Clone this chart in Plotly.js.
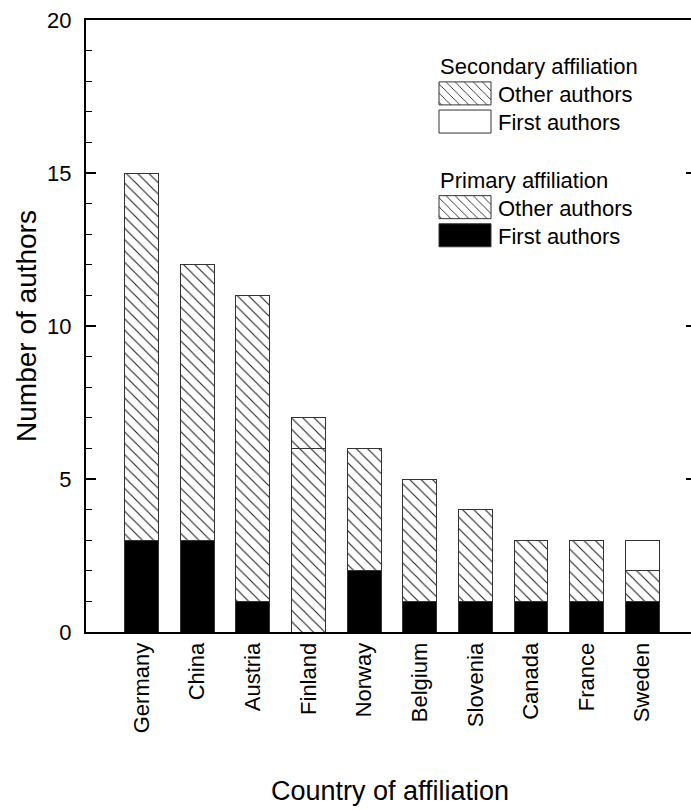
<!DOCTYPE html>
<html>
<head>
<meta charset="utf-8">
<script src="https://cdn.plot.ly/plotly-3.0.1.min.js"></script>
<style>
html,body{margin:0;padding:0;overflow:hidden;background:#fff;width:691px;height:810px;}
#chart{width:700px;height:810px;}
</style>
</head>
<body>
<div id="chart"></div>
<script>
var countries = ["Germany","China","Austria","Finland","Norway","Belgium","Slovenia","Canada","France","Sweden"];
var primaryFirst  = [3,3,1,0,2,1,1,1,1,1];
var primaryOther  = [12,9,10,6,4,4,3,2,2,1];
var secondaryOther= [0,0,0,1,0,0,0,0,0,0];
var secondaryFirst= [0,0,0,0,0,0,0,0,0,1];
var yTicks = [5,10,15];

var FONT = "Liberation Sans, Arial, sans-serif";
var hatch = {shape:"\\", size:8, solidity:0.14, fgcolor:"#222", bgcolor:"#fff", fillmode:"replace"};
var outline = {color:"#333", width:1};

function mk(name, vals, group, gtitle, rank, marker){
  return {type:"bar", x:countries, y:vals, name:name, legendgroup:group,
    legendgrouptitle:{text:gtitle, font:{family:FONT,size:22,color:"#000"}},
    legendrank:rank, width:0.61, marker:marker, hoverinfo:"skip"};
}
var traces = [
  mk("First authors", primaryFirst, "p", "Primary affiliation", 4, {color:"#000", line:outline}),
  mk("Other authors", primaryOther, "p", "Primary affiliation", 3, {color:"#fff", pattern:hatch, line:outline}),
  mk("Other authors", secondaryOther, "s", "Secondary affiliation", 1, {color:"#fff", pattern:hatch, line:outline}),
  mk("First authors", secondaryFirst, "s", "Secondary affiliation", 2, {color:"#fff", line:outline})
];

var layout = {
  width:700, height:810,
  margin:{l:86, r:6, t:20, b:178},
  paper_bgcolor:"#fff", plot_bgcolor:"#fff",
  barmode:"stack",
  font:{family:FONT, color:"#000"},
  showlegend:true,
  legend:{x:(435-86)/608, y:0.96, xanchor:"left", yanchor:"top", bgcolor:"rgba(0,0,0,0)",
    font:{family:FONT,size:22,color:"#000"}, traceorder:"grouped", tracegroupgap:33,
    itemwidth:53, itemclick:false},
  xaxis:{type:"category", range:[-1,9.93], showline:true, linecolor:"#000", linewidth:2,
    mirror:true, ticks:"", showgrid:false, zeroline:false, tickangle:-90,
    tickfont:{family:FONT,size:22,color:"#000"}, automargin:false,
    title:{text:"Country of affiliation", font:{family:FONT,size:27,color:"#000"}, standoff:49}},
  yaxis:{range:[0,20], dtick:5, tick0:0, showline:true, linecolor:"#000", linewidth:2,
    mirror:false, ticks:"inside", ticklen:10, tickwidth:1.5, tickcolor:"#000",
    minor:{dtick:1, ticks:"inside", ticklen:6, tickwidth:1, tickcolor:"#000"},
    showgrid:false, zeroline:false, ticklabelstandoff:8,
    tickfont:{family:FONT,size:22,color:"#000"}, automargin:false,
    title:{text:"Number of authors", font:{family:FONT,size:28,color:"#000"}, standoff:2}},
  yaxis2:{overlaying:"y", side:"right", range:[0,20], tickmode:"array", tickvals:yTicks,
    showticklabels:false, ticks:"inside", ticklen:8, tickwidth:1.5, tickcolor:"#000",
    showline:false, showgrid:false, zeroline:false}
};
traces.push({type:"scatter", x:[null], y:[null], yaxis:"y2", showlegend:false, hoverinfo:"skip"});

Plotly.newPlot("chart", traces, layout, {staticPlot:true}).then(function(){
  document.querySelectorAll("#chart .legend .legendpoints path").forEach(function(p){
    p.setAttribute("d","M-27.5,-11.5H24.5V11.5H-27.5Z");
  });
  // tighten legend row spacing
  var items = Array.prototype.slice.call(document.querySelectorAll("#chart .legend g.traces"));
  if(items.length){
    var tops = items.map(function(g){ return g.getBoundingClientRect().top; });
    var t0 = Math.min.apply(null, tops), t1 = Math.max.apply(null, tops);
    var k = (t1 > t0) ? 170/(t1-t0) : 1;
    items.forEach(function(g, i){
      var delta = (t0 + (tops[i]-t0)*k) - tops[i];
      var tr = g.getAttribute("transform") || "translate(0,0)";
      var m = tr.match(/translate\(\s*([-\d.e]+)[ ,]+([-\d.e]+)\s*\)/);
      var x = m ? parseFloat(m[1]) : 0, y = m ? parseFloat(m[2]) : 0;
      g.setAttribute("transform", "translate(" + x + "," + (y + delta) + ")");
    });
  }
});
</script>
</body>
</html>
